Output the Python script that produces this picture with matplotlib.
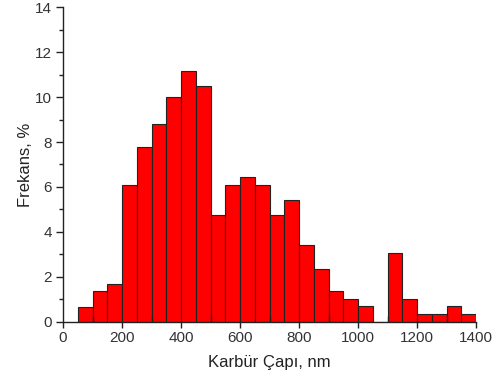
import matplotlib
matplotlib.use("Agg")
import matplotlib.pyplot as plt
import numpy as np
from matplotlib.ticker import MultipleLocator

plt.rcParams['font.family'] = ['Liberation Sans', 'DejaVu Sans']

bin_edges = [50, 100, 150, 200, 250, 300, 350, 400, 450, 500, 550, 600, 650, 700,
             750, 800, 850, 900, 950, 1000, 1050, 1100, 1150, 1200, 1250, 1300, 1350, 1400]
freq = [0.67, 1.35, 1.69, 6.1, 7.8, 8.8, 10.0, 11.15, 10.5, 4.75, 6.1, 6.43,
        6.1, 4.75, 5.42, 3.4, 2.37, 1.35, 1.02, 0.68, 0.0, 3.05, 1.02, 0.34,
        0.34, 0.68, 0.34]
xlabel = "Karbür Çapı, nm"
ylabel = "Frekans, %"

fig = plt.figure(figsize=(4.98, 3.79), dpi=100)
ax = fig.add_axes([0.1265, 0.151, 0.8295, 0.830])

left = np.array(bin_edges[:-1])
widths = np.diff(bin_edges)
ax.bar(left, freq, width=widths, align='edge', color='#ff0000',
       edgecolor='#222222', linewidth=0.8)

ax.set_xlim(0, 1400)
ax.set_ylim(0, 14)
ax.xaxis.set_major_locator(MultipleLocator(200))
ax.xaxis.set_minor_locator(MultipleLocator(100))
ax.yaxis.set_major_locator(MultipleLocator(2))
ax.yaxis.set_minor_locator(MultipleLocator(1))

for s in ['top', 'right']:
    ax.spines[s].set_visible(False)
for s in ['left', 'bottom']:
    ax.spines[s].set_linewidth(1.0)
    ax.spines[s].set_color('#222222')

ax.tick_params(axis='x', which='major', direction='out', length=4, width=1, labelsize=11, pad=3, colors='#222222', labelcolor='#333333')
ax.tick_params(axis='x', which='minor', direction='in', length=4, width=1, colors='#222222')
ax.tick_params(axis='y', which='major', direction='out', length=5, width=1, labelsize=11, pad=3, colors='#222222', labelcolor='#333333')
ax.tick_params(axis='y', which='minor', direction='out', length=3, width=1, colors='#222222')

ax.set_xlabel(xlabel, fontsize=12, color='#222222', labelpad=7)
ax.set_ylabel(ylabel, fontsize=12, color='#222222', labelpad=1.5)

fig.savefig("out.png", dpi=100)
